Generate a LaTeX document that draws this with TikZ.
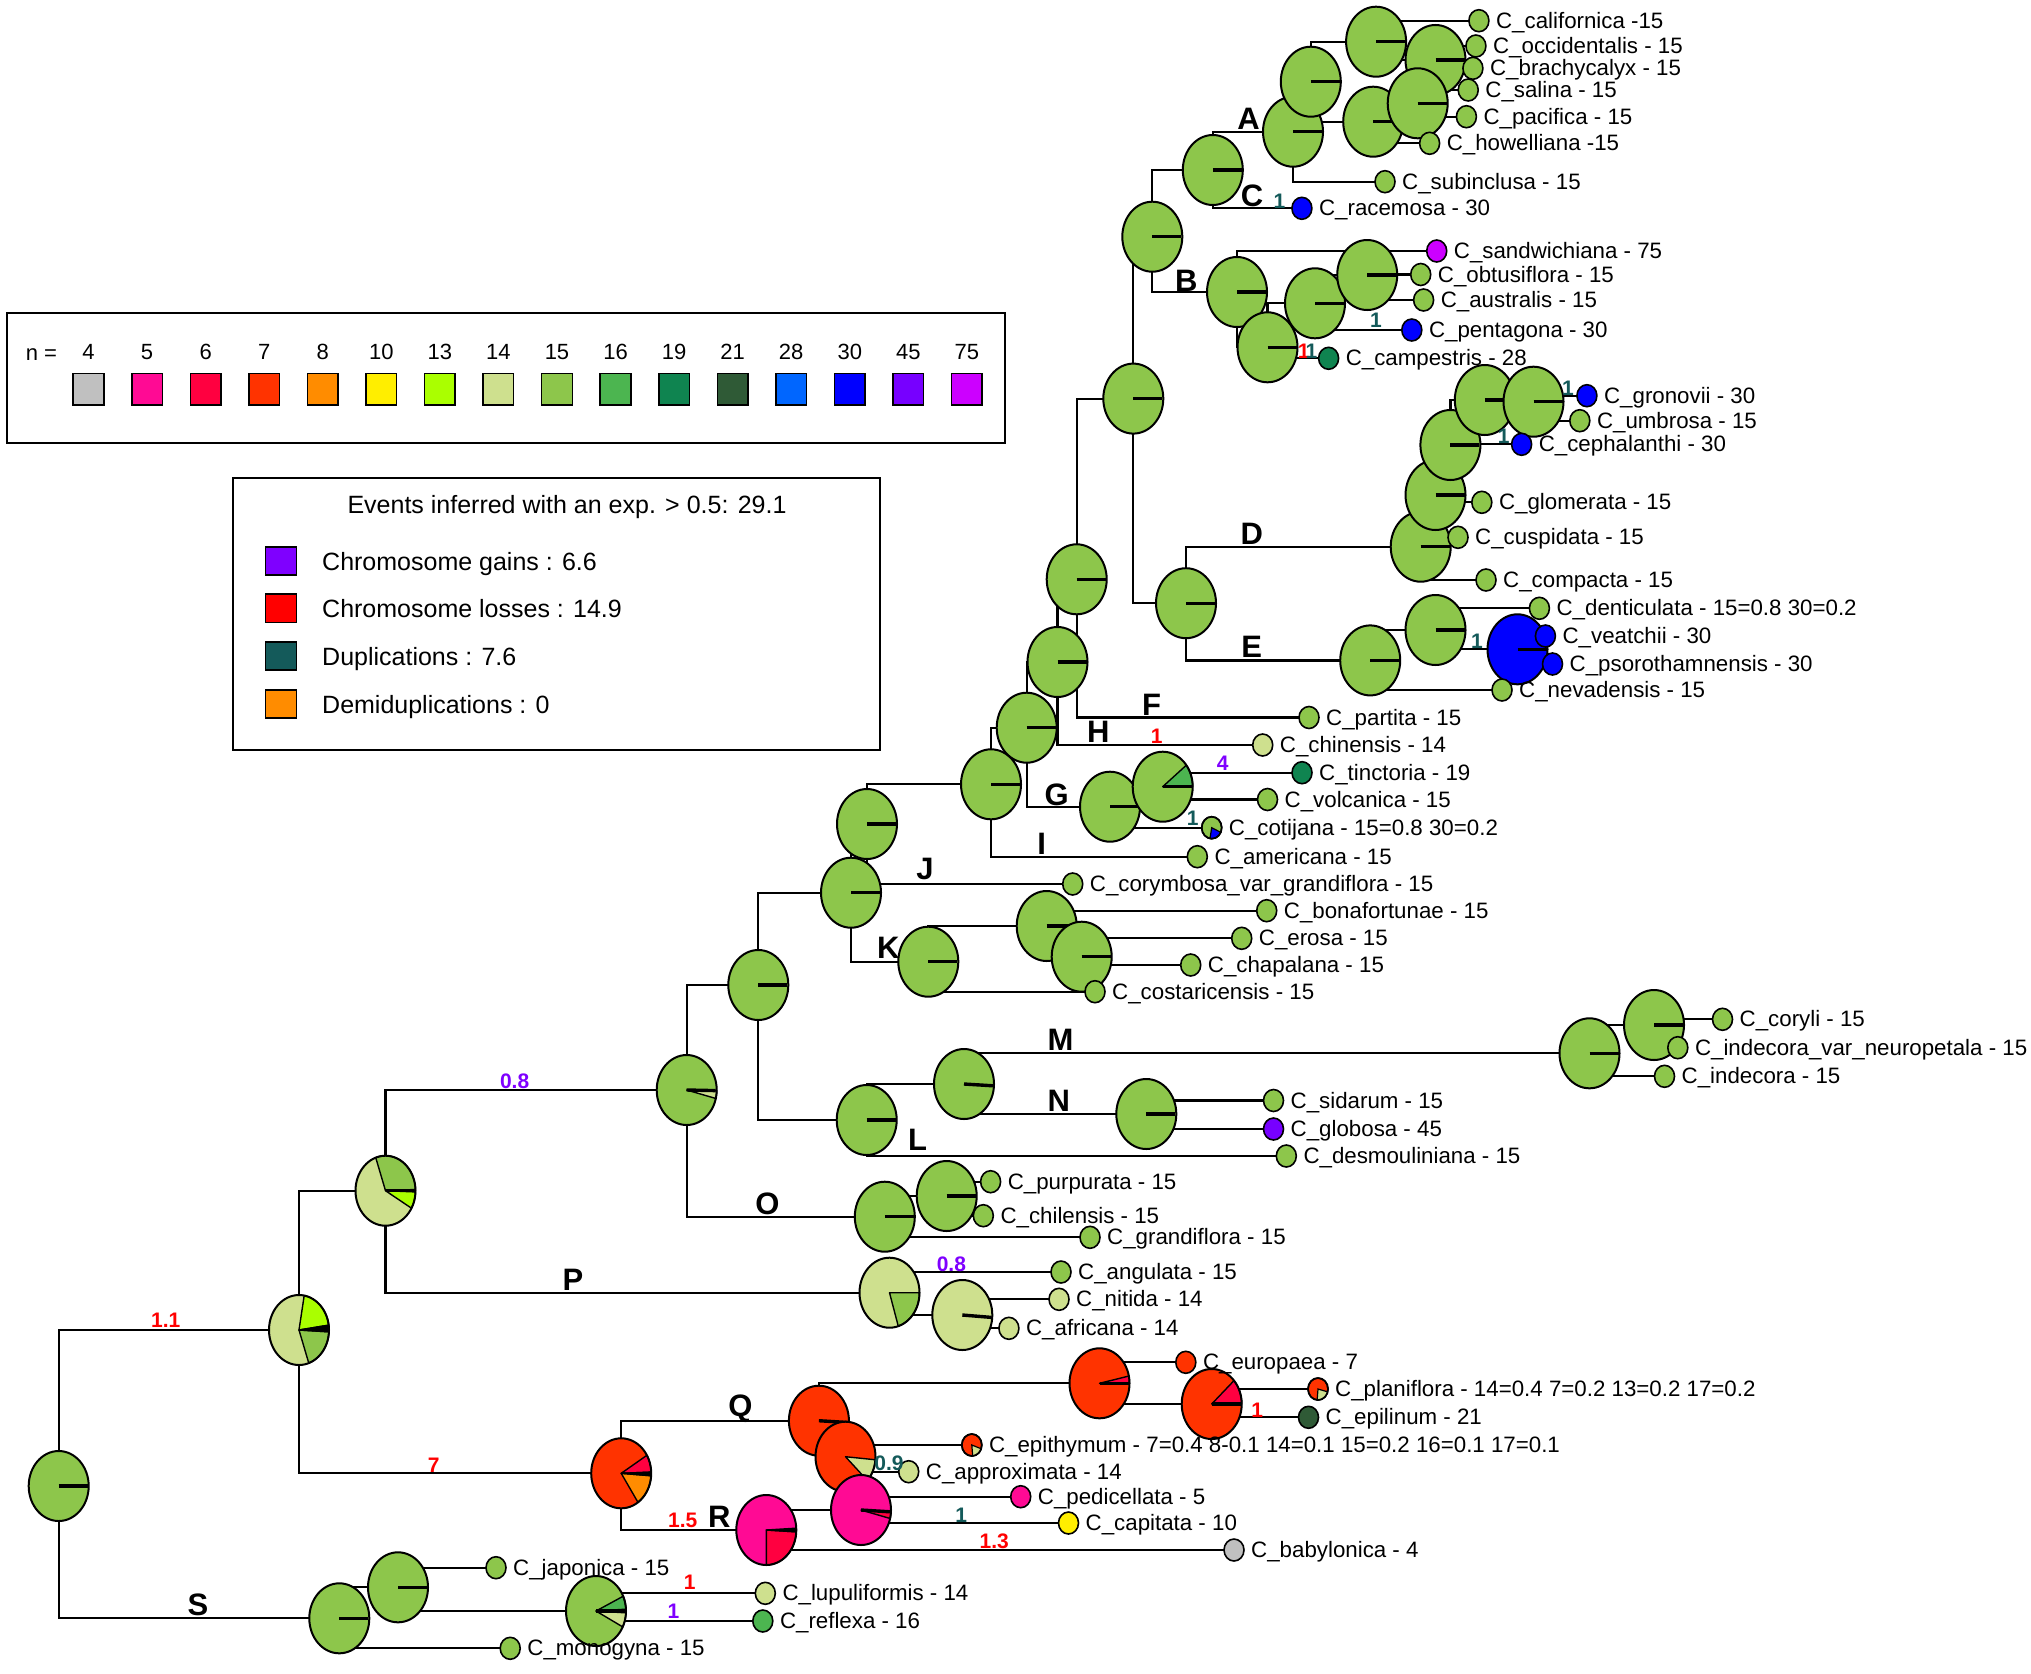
\documentclass[tikz,border=0pt]{standalone}
\usepackage{fontspec}
\setmainfont{Liberation Sans}
\usetikzlibrary{calc}
\definecolor{k4}{HTML}{C0C0C0}
\definecolor{k5}{HTML}{FF0A94}
\definecolor{k6}{HTML}{FF0040}
\definecolor{k7}{HTML}{FF3300}
\definecolor{k8}{HTML}{FF8C00}
\definecolor{k10}{HTML}{FFEE00}
\definecolor{k13}{HTML}{AAFF00}
\definecolor{k14}{HTML}{CEE08E}
\definecolor{k15}{HTML}{8DC64B}
\definecolor{k16}{HTML}{4CB550}
\definecolor{k19}{HTML}{0F8450}
\definecolor{k21}{HTML}{2F5A36}
\definecolor{k28}{HTML}{0066FF}
\definecolor{k30}{HTML}{0000FF}
\definecolor{k45}{HTML}{7700FF}
\definecolor{k75}{HTML}{CC00FF}
\definecolor{evg}{HTML}{7F00FF}
\definecolor{evl}{HTML}{FF0000}
\definecolor{evd}{HTML}{145A5A}
\definecolor{evdd}{HTML}{FF8C00}
\tikzset{
  br/.style={line width=2.2pt},
  sp/.style={font=\fontsize{22.3}{26}\selectfont, inner sep=0pt, anchor=base west},
  clade/.style={font=\bfseries\fontsize{31}{34}\selectfont, inner sep=0pt, anchor=base},
  evt/.style={font=\bfseries\fontsize{21}{24}\selectfont, inner sep=0pt, anchor=base},
  lgd/.style={font=\fontsize{22}{26}\selectfont, inner sep=0pt},
  lgdb/.style={font=\fontsize{25}{30}\selectfont, inner sep=0pt},
  sq/.style={line width=1.5pt, draw=black},
  boxline/.style={line width=2pt, draw=black},
}
\newcommand{\PieBase}[2]{\fill[#2] (#1) ellipse [x radius=30pt, y radius=35pt];}
\newcommand{\PieSlice}[4]{\filldraw[fill=#4, draw=black, line width=1.4pt, line join=round] (#1) -- ++(#2:30pt and 35pt) arc[start angle=#2, end angle=#3, x radius=30pt, y radius=35pt] -- cycle;}
\newcommand{\PieBar}[2]{\draw[line width=3.4pt] (#1) -- ++(#2:29pt and 34pt);}
\newcommand{\PieRing}[1]{\draw[line width=2pt] (#1) ellipse [x radius=30pt, y radius=35pt];}
\newcommand{\GPie}[1]{\PieBase{#1}{k15}\PieBar{#1}{0}\PieRing{#1}}
\newcommand{\Tip}[3]{\filldraw[fill=#2, line width=1.6pt] (#1) ellipse [x radius=10pt, y radius=11pt];
  \node[sp] (#1-lab) at ($(#1)+(17,7.5)$) {#3};}
\newcommand{\TipSlice}[4]{\filldraw[fill=#4, draw=black, line width=1.2pt] (#1) -- ++(#2:10pt and 11pt) arc[start angle=#2, end angle=#3, x radius=10pt, y radius=11pt] -- cycle;}
\newcommand{\TipRing}[1]{\draw[line width=1.6pt] (#1) ellipse [x radius=10pt, y radius=11pt];}
\begin{document}
\begin{tikzpicture}[x=1pt,y=-1pt]
\useasboundingbox (0,0) rectangle (2031,1673);
\fill[white] (0,0) rectangle (2031,1673);
% ---------- internal nodes ----------
\coordinate (root) at (58.7,1486);
\coordinate (n1) at (299,1330);
\coordinate (n2) at (385.5,1190.7);
\coordinate (n3) at (686.7,1090);
\coordinate (n4) at (758.3,985);
\coordinate (n5) at (851,892.7);
\coordinate (n6) at (867,824);
\coordinate (n7) at (991,784.3);
\coordinate (n8) at (1026.7,727.7);
\coordinate (n9) at (1057.5,662);
\coordinate (n10) at (1076.7,579.3);
\coordinate (n11) at (1133.3,398.6);
\coordinate (n12) at (1152.3,236.7);
\coordinate (ac) at (1212.8,170);
\coordinate (na) at (1293,131.7);
\coordinate (naa) at (1310.8,81.7);
\coordinate (nab) at (1376.1,41.7);
\coordinate (nac) at (1435.5,60);
\coordinate (nad) at (1373.2,121.7);
\coordinate (nae) at (1417.7,103.3);
\coordinate (nb) at (1237,292);
\coordinate (nba) at (1367.2,275);
\coordinate (nbb) at (1315,303.3);
\coordinate (nbc) at (1267.5,347.3);
\coordinate (de) at (1186,603.2);
\coordinate (nda) at (1420.7,546.7);
\coordinate (ndb) at (1435.5,495);
\coordinate (ndc) at (1450.4,445);
\coordinate (ndd) at (1484.8,400);
\coordinate (nde) at (1533.5,401.7);
\coordinate (ne) at (1370.2,660.4);
\coordinate (nea) at (1435.5,630);
\coordinate (neb) at (1517.5,649.3);
\coordinate (ng) at (1110,806.7);
\coordinate (nga) at (1162.7,786.7);
\coordinate (nk) at (928.3,961.7);
\coordinate (nka) at (1046.7,926);
\coordinate (nkb) at (1081.7,956.7);
\coordinate (nl) at (866.7,1120);
\coordinate (nmn) at (964,1084);
\coordinate (nm) at (1589.5,1053.3);
\coordinate (nma) at (1654,1025);
\coordinate (nn) at (1146.3,1114);
\coordinate (no) at (884.8,1216.7);
\coordinate (noa) at (946.7,1196);
\coordinate (np) at (889.5,1292.7);
\coordinate (npa) at (962.3,1315);
\coordinate (nqr) at (621.2,1473.3);
\coordinate (nq) at (818.9,1420.7);
\coordinate (nqa) at (1099.5,1383.3);
\coordinate (nqc) at (1211.7,1404);
\coordinate (nqb) at (845.5,1456.7);
\coordinate (nr) at (766.3,1530);
\coordinate (nra) at (861,1510);
\coordinate (ns) at (339.3,1618.3);
\coordinate (nsa) at (398,1587.3);
\coordinate (nsb) at (596,1611);
% ---------- tips ----------
\coordinate (tcal) at (1478.9,20.7);
\coordinate (tocc) at (1475.9,46);
\coordinate (tbra) at (1472.9,68.3);
\coordinate (tsal) at (1468.2,90);
\coordinate (tpac) at (1466.4,116.7);
\coordinate (thow) at (1429.6,143.3);
\coordinate (tsub) at (1385,181.7);
\coordinate (trac) at (1301.9,208.3);
\coordinate (tsan) at (1436.7,251);
\coordinate (tobt) at (1420.7,274.5);
\coordinate (taus) at (1423.6,300);
\coordinate (tpen) at (1411.8,330);
\coordinate (tcam) at (1328.6,358.3);
\coordinate (tgro) at (1586.9,395.7);
\coordinate (tumb) at (1579.8,420.7);
\coordinate (tcep) at (1521.6,444.3);
\coordinate (tglo) at (1481.8,502.3);
\coordinate (tcus) at (1458,537.3);
\coordinate (tcom) at (1486,580);
\coordinate (tden) at (1539.4,608.3);
\coordinate (tvea) at (1545.4,636);
\coordinate (tpso) at (1552.5,664);
\coordinate (tnev) at (1502,690);
\coordinate (tpar) at (1309,717.5);
\coordinate (tchi) at (1262.7,745);
\coordinate (ttin) at (1302,772.7);
\coordinate (tvol) at (1267.5,799.5);
\coordinate (tcot) at (1211.7,827.7);
\coordinate (tame) at (1197.3,856.7);
\coordinate (tcor) at (1072.7,884);
\coordinate (tbon) at (1266.7,910.7);
\coordinate (tero) at (1241.7,938.3);
\coordinate (tcha) at (1190.7,965);
\coordinate (tcos) at (1095,991.7);
\coordinate (tcoryli) at (1722.5,1019.3);
\coordinate (tneu) at (1677.8,1047.7);
\coordinate (tind) at (1664.5,1076.3);
\coordinate (tsid) at (1273.5,1100.5);
\coordinate (tglob) at (1273.5,1129);
\coordinate (tdes) at (1286.3,1156);
\coordinate (tpur) at (990.6,1181.7);
\coordinate (tchil) at (983.3,1215.7);
\coordinate (tgra) at (1090,1237.3);
\coordinate (tang) at (1061,1272);
\coordinate (tnit) at (1059,1299.3);
\coordinate (tafr) at (1008.9,1328.3);
\coordinate (teur) at (1185.8,1362.3);
\coordinate (tpla) at (1318,1389);
\coordinate (tepil) at (1308.5,1417.3);
\coordinate (tepit) at (971.8,1445);
\coordinate (tapp) at (908.7,1471.7);
\coordinate (tped) at (1020.7,1496.7);
\coordinate (tcap) at (1068.5,1523);
\coordinate (tbab) at (1234,1550);
\coordinate (tjap) at (496,1567.7);
\coordinate (tlup) at (765.3,1593.3);
\coordinate (tref) at (762.8,1621);
\coordinate (tmon) at (510.2,1648.3);
% ---------- legend 1 ----------
\draw[boxline] (6.5,312.5) rectangle (1005,443.3);
\node[lgd, anchor=base] (nlab) at (41.5,360) {n =};
\foreach \v [count=\i from 0] in {4,5,6,7,8,10,13,14,15,16,19,21,28,30,45,75} {
  \node[lgd, anchor=base] (num\i) at ({88.5+58.56*\i},359.5) {\v};
  \filldraw[sq, fill=k\v] ({88.5+58.56*\i-15.3},373.3) rectangle ({88.5+58.56*\i+15.3},405);
}
% ---------- legend 2 ----------
\draw[boxline] (233,478.3) rectangle (880.3,750);
\node[lgdb, anchor=base] (evtitle) at (567,513) {Events inferred with an exp. > 0.5: 29.1};
\filldraw[sq, fill=evg] (265.5,546.8) rectangle (296.7,575.2);
\node[lgdb, anchor=base west] (evg-l) at (322,570) {Chromosome gains : 6.6};
\filldraw[sq, fill=evl] (265.5,594.1) rectangle (296.7,622.5);
\node[lgdb, anchor=base west] (evl-l) at (322,617.3) {Chromosome losses : 14.9};
\filldraw[sq, fill=evd] (265.5,641.8) rectangle (296.7,670.2);
\node[lgdb, anchor=base west] (evd-l) at (322,665) {Duplications : 7.6};
\filldraw[sq, fill=evdd] (265.5,689.8) rectangle (296.7,718.2);
\node[lgdb, anchor=base west] (evdd-l) at (322,713) {Demiduplications : 0};
% ---------- branches ----------
\foreach \p/\c in {root/n1,root/ns,n1/n2,n1/nqr,n2/n3,n2/np,n3/n4,n3/no,n4/n5,n4/nl,
  n5/n6,n5/nk,n6/n7,n6/tcor,n7/n8,n7/tame,n8/n9,n8/ng,n9/n10,n9/tchi,n10/n11,n10/tpar,
  n11/n12,n11/de,n12/ac,n12/nb,ac/na,ac/trac,na/naa,na/tsub,naa/nab,naa/nad,nab/tcal,nab/nac,
  nac/tocc,nac/tbra,nad/nae,nad/thow,nae/tsal,nae/tpac,nb/tsan,nb/nbc,nbc/nbb,nbc/tcam,
  nbb/nba,nbb/tpen,nba/tobt,nba/taus,de/nda,de/ne,nda/ndb,nda/tcus,nda/tcom,ndb/ndc,ndb/tglo,
  ndc/ndd,ndc/tcep,ndd/nde,nde/tgro,nde/tumb,ne/nea,ne/tnev,nea/tden,nea/neb,neb/tvea,neb/tpso,
  ng/nga,ng/tcot,nga/ttin,nga/tvol,nk/nka,nk/tcos,nka/tbon,nka/nkb,nkb/tero,nkb/tcha,
  nl/nmn,nl/tdes,nmn/nm,nmn/nn,nm/nma,nm/tind,nma/tcoryli,nma/tneu,nn/tsid,nn/tglob,
  no/noa,no/tgra,noa/tpur,noa/tchil,np/tang,np/npa,npa/tnit,npa/tafr,
  nqr/nq,nqr/nr,nq/nqa,nq/nqb,nqa/teur,nqa/nqc,nqc/tpla,nqc/tepil,nqb/tepit,nqb/tapp,
  nr/nra,nr/tbab,nra/tped,nra/tcap,ns/nsa,ns/tmon,nsa/tjap,nsa/nsb,nsb/tlup,nsb/tref}
  {\draw[br] (\p) |- (\c);}
% ---------- pies ----------
\GPie{root}
\PieBase{n1}{k14}\PieSlice{n1}{8}{80}{k13}\PieSlice{n1}{-71}{-3}{k15}\PieSlice{n1}{-3}{8}{black}\PieRing{n1}
\PieBase{n2}{k14}\PieSlice{n2}{2}{109}{k15}\PieSlice{n2}{-30}{-2}{k13}\PieBar{n2}{0}\PieRing{n2}
\PieBase{n3}{k15}\PieSlice{n3}{-14}{-1}{k14}\PieBar{n3}{-1}\PieRing{n3}
\PieBase{np}{k14}\PieSlice{np}{-73}{0}{k15}\PieRing{np}
\PieBase{npa}{k14}\PieBar{npa}{-4}\PieRing{npa}
\GPie{n4}
\GPie{no}\GPie{noa}
\GPie{nl}
\PieBase{nmn}{k15}\PieBar{nmn}{-3}\PieRing{nmn}
\GPie{nm}\GPie{nma}\GPie{nn}
\GPie{n5}\GPie{nk}\GPie{nka}\GPie{nkb}
\GPie{n6}\GPie{n7}\GPie{n8}
\GPie{ng}
\PieBase{nga}{k15}\PieSlice{nga}{0}{38}{k16}\PieBar{nga}{0}\PieRing{nga}
\GPie{n9}\GPie{n10}\GPie{n11}
\GPie{de}\GPie{ne}\GPie{nea}
\PieBase{neb}{k30}\PieBar{neb}{0}\PieRing{neb}
\GPie{nda}\GPie{ndb}\GPie{ndc}\GPie{ndd}\GPie{nde}
\GPie{n12}
\GPie{nb}\GPie{nbc}\GPie{nbb}\GPie{nba}
\GPie{ac}\GPie{na}\GPie{naa}\GPie{nab}\GPie{nac}\GPie{nad}\GPie{nae}
\PieBase{nqr}{k7}\PieSlice{nqr}{2}{31}{k6}\PieSlice{nqr}{-56}{-4}{k8}\PieSlice{nqr}{-4}{2}{black}\PieRing{nqr}
\PieBase{nq}{k7}\PieBar{nq}{-3}\PieRing{nq}
\PieBase{nqa}{k7}\PieSlice{nqa}{0}{12}{k6}\PieBar{nqa}{0}\PieRing{nqa}
\PieBase{nqc}{k7}\PieSlice{nqc}{0}{42}{k6}\PieBar{nqc}{0}\PieRing{nqc}
\PieBase{nqb}{k7}\PieSlice{nqb}{-43}{-5}{k14}\PieRing{nqb}
\PieBase{nr}{k5}\PieSlice{nr}{-90}{-3}{k6}\PieSlice{nr}{-3}{3}{black}\PieRing{nr}
\PieBase{nra}{k5}\PieSlice{nra}{-14}{-3}{k6}\PieBar{nra}{-3}\PieRing{nra}
\GPie{ns}\GPie{nsa}
\PieBase{nsb}{k15}\PieSlice{nsb}{3}{25}{k16}\PieSlice{nsb}{-27}{-3}{k14}\PieBar{nsb}{0}\PieRing{nsb}
% ---------- tips ----------
\Tip{tcal}{k15}{C\_californica -15}
\Tip{tocc}{k15}{C\_occidentalis - 15}
\Tip{tbra}{k15}{C\_brachycalyx - 15}
\Tip{tsal}{k15}{C\_salina - 15}
\Tip{tpac}{k15}{C\_pacifica - 15}
\Tip{thow}{k15}{C\_howelliana -15}
\Tip{tsub}{k15}{C\_subinclusa - 15}
\Tip{trac}{k30}{C\_racemosa - 30}
\Tip{tsan}{k75}{C\_sandwichiana - 75}
\Tip{tobt}{k15}{C\_obtusiflora - 15}
\Tip{taus}{k15}{C\_australis - 15}
\Tip{tpen}{k30}{C\_pentagona - 30}
\Tip{tcam}{k19}{C\_campestris - 28}
\Tip{tgro}{k30}{C\_gronovii - 30}
\Tip{tumb}{k15}{C\_umbrosa - 15}
\Tip{tcep}{k30}{C\_cephalanthi - 30}
\Tip{tglo}{k15}{C\_glomerata - 15}
\Tip{tcus}{k15}{C\_cuspidata - 15}
\Tip{tcom}{k15}{C\_compacta - 15}
\Tip{tden}{k15}{C\_denticulata - 15=0.8 30=0.2}
\Tip{tvea}{k30}{C\_veatchii - 30}
\Tip{tpso}{k30}{C\_psorothamnensis - 30}
\Tip{tnev}{k15}{C\_nevadensis - 15}
\Tip{tpar}{k15}{C\_partita - 15}
\Tip{tchi}{k14}{C\_chinensis - 14}
\Tip{ttin}{k19}{C\_tinctoria - 19}
\Tip{tvol}{k15}{C\_volcanica - 15}
\Tip{tcot}{k15}{C\_cotijana - 15=0.8 30=0.2}
\TipSlice{tcot}{-100}{-25}{k30}\TipRing{tcot}
\Tip{tame}{k15}{C\_americana - 15}
\Tip{tcor}{k15}{C\_corymbosa\_var\_grandiflora - 15}
\Tip{tbon}{k15}{C\_bonafortunae - 15}
\Tip{tero}{k15}{C\_erosa - 15}
\Tip{tcha}{k15}{C\_chapalana - 15}
\Tip{tcos}{k15}{C\_costaricensis - 15}
\Tip{tcoryli}{k15}{C\_coryli - 15}
\Tip{tneu}{k15}{C\_indecora\_var\_neuropetala - 15}
\Tip{tind}{k15}{C\_indecora - 15}
\Tip{tsid}{k15}{C\_sidarum - 15}
\Tip{tglob}{k45}{C\_globosa - 45}
\Tip{tdes}{k15}{C\_desmouliniana - 15}
\Tip{tpur}{k15}{C\_purpurata - 15}
\Tip{tchil}{k15}{C\_chilensis - 15}
\Tip{tgra}{k15}{C\_grandiflora - 15}
\Tip{tang}{k15}{C\_angulata - 15}
\Tip{tnit}{k14}{C\_nitida - 14}
\Tip{tafr}{k14}{C\_africana - 14}
\Tip{teur}{k7}{C\_europaea - 7}
\Tip{tpla}{k7}{C\_planiflora - 14=0.4 7=0.2 13=0.2 17=0.2}
\TipSlice{tpla}{-95}{-15}{k14}\TipRing{tpla}
\Tip{tepil}{k21}{C\_epilinum - 21}
\Tip{tepit}{k7}{C\_epithymum - 7=0.4 8-0.1 14=0.1 15=0.2 16=0.1 17=0.1}
\TipSlice{tepit}{-85}{-20}{k14}\TipRing{tepit}
\Tip{tapp}{k14}{C\_approximata - 14}
\Tip{tped}{k5}{C\_pedicellata - 5}
\Tip{tcap}{k10}{C\_capitata - 10}
\Tip{tbab}{k4}{C\_babylonica - 4}
\Tip{tjap}{k15}{C\_japonica - 15}
\Tip{tlup}{k14}{C\_lupuliformis - 14}
\Tip{tref}{k16}{C\_reflexa - 16}
\Tip{tmon}{k15}{C\_monogyna - 15}
% ---------- clade letters ----------
\node[clade] (lA) at (1248.5,129) {A};
\node[clade] (lB) at (1186.3,291) {B};
\node[clade] (lC) at (1252,206.5) {C};
\node[clade] (lD) at (1251.7,544) {D};
\node[clade] (lE) at (1251.7,657.5) {E};
\node[clade] (lF) at (1151.7,715) {F};
\node[clade] (lG) at (1056.7,805.5) {G};
\node[clade] (lH) at (1098.3,742.5) {H};
\node[clade] (lI) at (1041.7,854) {I};
\node[clade] (lJ) at (925,879.5) {J};
\node[clade] (lK) at (888.3,958.5) {K};
\node[clade] (lL) at (917.6,1150) {L};
\node[clade] (lM) at (1060.5,1050.5) {M};
\node[clade] (lN) at (1058.7,1111.5) {N};
\node[clade] (lO) at (767.5,1214) {O};
\node[clade] (lP) at (573,1290) {P};
\node[clade] (lQ) at (740.3,1416) {Q};
\node[clade] (lR) at (719.3,1527.5) {R};
\node[clade] (lS) at (198,1615) {S};
% ---------- event labels ----------
\node[evt, text=evl] (e1) at (165.8,1327) {1.1};
\node[evt, text=evl] (e2) at (433.7,1472) {7};
\node[evt, text=evg] (e3) at (514.6,1088.5) {0.8};
\node[evt, text=evg] (e4) at (951.4,1271) {0.8};
\node[evt, text=evl] (e5) at (682.8,1527) {1.5};
\node[evt, text=evl] (e6) at (994.2,1548.5) {1.3};
\node[evt, text=evd] (e7) at (961.3,1522) {1};
\node[evt, text=evd] (e8) at (889,1470) {0.9};
\node[evt, text=evl] (e9) at (1257.3,1417) {1};
\node[evt, text=evl] (e10) at (689.8,1589.5) {1};
\node[evt, text=evg] (e11) at (673.5,1618.5) {1};
\node[evt, text=evg] (e12) at (1222.7,770) {4};
\node[evt, text=evd] (e13) at (1192.7,825) {1};
\node[evt, text=evl] (e14) at (1156.7,743.5) {1};
\node[evt, text=evd] (e15) at (1279.5,208.5) {1};
\node[evt, text=evd] (e16) at (1376,327) {1};
\node[evt, text=evl] (e17) at (1303.7,358.5) {1};
\node[evt, text=evd] (e18) at (1311.4,358.5) {1};
\node[evt, text=evd] (e19) at (1568,395) {1};
\node[evt, text=evd] (e20) at (1503.8,443.5) {1};
\node[evt, text=evd] (e21) at (1477,648.5) {1};
\end{tikzpicture}
\end{document}
